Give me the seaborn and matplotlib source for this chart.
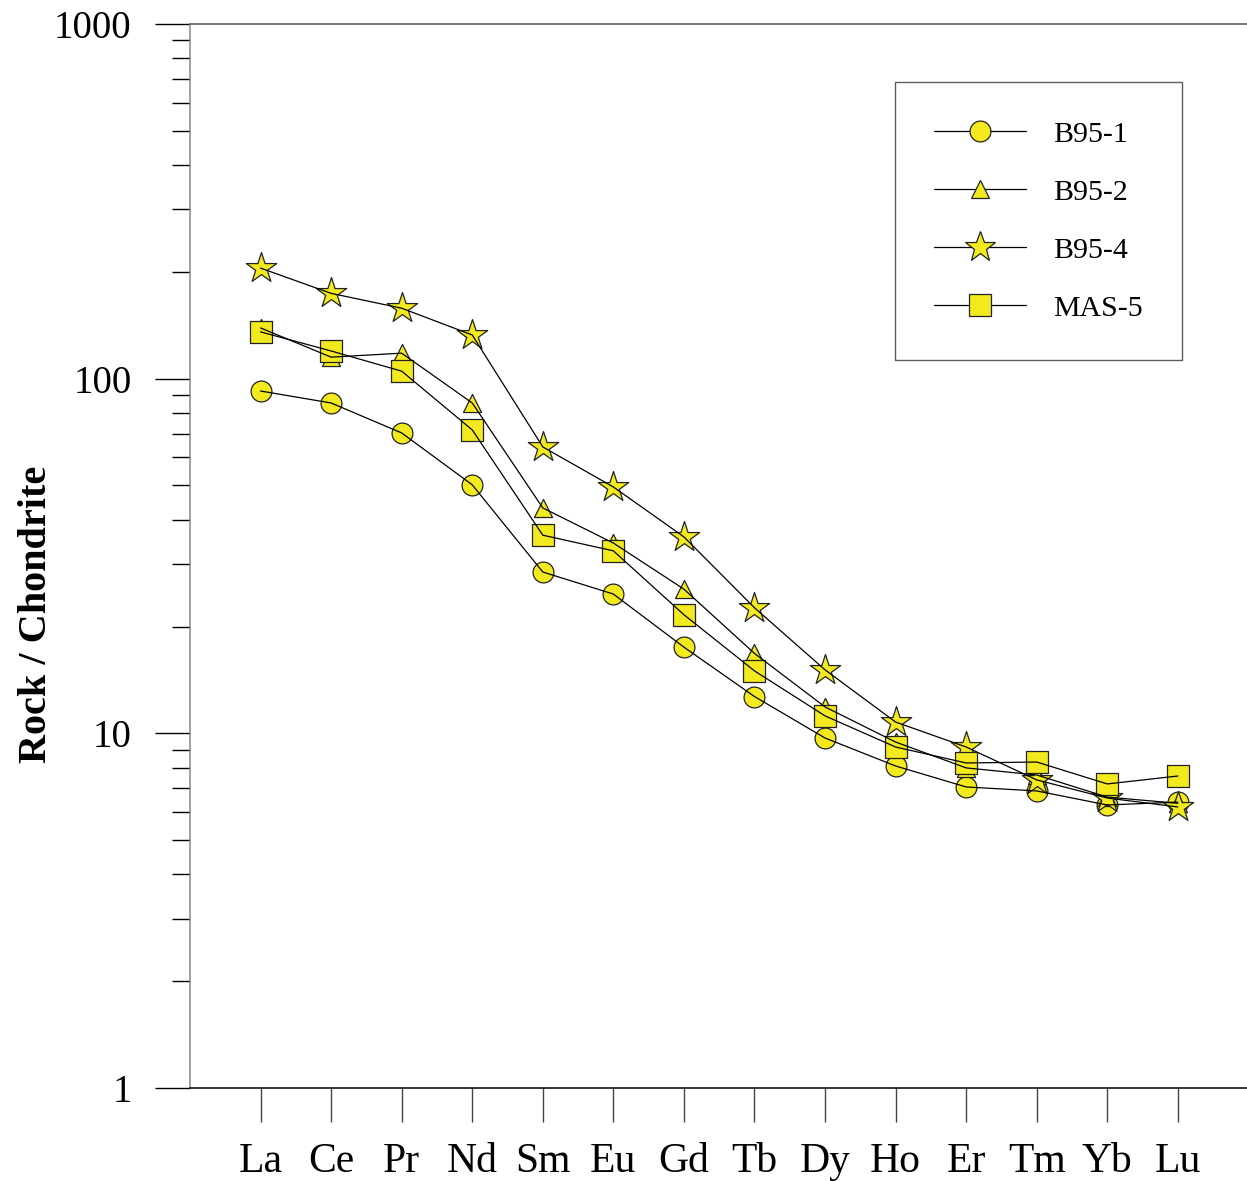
import numpy as np
import pandas as pd
import matplotlib
matplotlib.use("Agg")
import matplotlib.pyplot as plt
from matplotlib.lines import Line2D
import matplotlib.ticker as mticker
import seaborn as sns

# REE chondrite-normalised values
elements = ["La", "Ce", "Pr", "Nd", "Sm", "Eu", "Gd", "Tb", "Dy", "Ho", "Er", "Tm", "Yb", "Lu"]
b95_1 = [92.3, 85.4, 70.3, 50.2, 28.5, 24.7, 17.5, 12.7, 9.7, 8.09, 7.06, 6.88, 6.28, 6.4]
b95_2 = [139, 115, 118, 85.4, 43.2, 34.4, 25.5, 16.8, 11.87, 9.45, 7.99, 7.63, 6.61, 6.35]
b95_4 = [205, 174, 158, 132.8, 64.2, 49.5, 35.8, 22.6, 15.1, 10.76, 9.15, 7.39, 6.57, 6.2]
mas_5 = [135.5, 119.7, 105, 71.7, 36.2, 32.7, 21.6, 15.0, 11.2, 9.15, 8.25, 8.3, 7.2, 7.58]

samples = ["B95-1", "B95-2", "B95-4", "MAS-5"]
series = [b95_1, b95_2, b95_4, mas_5]
markers = {"B95-1": "o", "B95-2": "^", "B95-4": "*", "MAS-5": "s"}
msizes = {"B95-1": 15, "B95-2": 13, "B95-4": 23, "MAS-5": 16}

rows = []
for name, vals in zip(samples, series):
    for i, (el, v) in enumerate(zip(elements, vals)):
        rows.append({"sample": name, "element": el, "pos": i + 1, "value": v})
df = pd.DataFrame(rows)

sns.set_style("white")
plt.rcParams["font.family"] = ["Liberation Serif", "DejaVu Serif"]
plt.rcParams["text.color"] = "black"
plt.rcParams["axes.labelcolor"] = "black"
plt.rcParams["xtick.color"] = "black"
plt.rcParams["ytick.color"] = "black"

fill = "#F2EA1E"
edge = "#222222"

fig = plt.figure(figsize=(12.47, 11.81), dpi=100)
ax = fig.add_axes([190 / 1247, 1 - 1088 / 1181, (1247 - 190) / 1247, 1064 / 1181])

for name in samples:
    sub = df[df["sample"] == name]
    sns.scatterplot(data=sub, x="pos", y="value", marker=markers[name],
                    s=msizes[name] ** 2, color=fill, edgecolor=edge,
                    linewidth=0.9, ax=ax, zorder=2, legend=False)

sns.lineplot(data=df, x="pos", y="value", units="sample", estimator=None,
             color="black", lw=0.9, ax=ax, zorder=3, legend=False, sort=False)

ax.set_yscale("log")
ax.set_ylim(1, 1000)
ax.set_xlim(0, 14.98)

ax.yaxis.set_major_locator(mticker.LogLocator(base=10, numticks=10))
ax.yaxis.set_major_formatter(mticker.FuncFormatter(lambda v, p: f"{v:g}"))
ax.yaxis.set_minor_locator(mticker.LogLocator(base=10, subs=np.arange(2, 10), numticks=20))
ax.yaxis.set_minor_formatter(mticker.NullFormatter())
ax.tick_params(axis="y", which="major", direction="out", length=25, width=1,
               color="black", labelcolor="black", labelsize=28, pad=17, left=True)
ax.tick_params(axis="y", which="minor", direction="out", length=13, width=1,
               color="black", left=True)

ax.set_xticks(range(1, len(elements) + 1))
ax.set_xticklabels(elements)
ax.tick_params(axis="x", which="major", direction="out", length=24.5, width=1,
               color="#444444", labelcolor="black", labelsize=30, pad=15, bottom=True)

ax.spines["right"].set_visible(False)
ax.spines["left"].set_color("#888888")
ax.spines["top"].set_color("#555555")
ax.spines["bottom"].set_color("black")
for s in ["left", "top", "bottom"]:
    ax.spines[s].set_linewidth(1.1)

ax.set_xlabel("")
ax.set_ylabel("Rock / Chondrite", fontsize=29, fontweight="bold", color="black")
ax.yaxis.set_label_coords(-0.128, 0.445)

handles = [Line2D([0], [0], color="black", lw=0.9, marker=markers[n],
                  markersize=msizes[n], markerfacecolor=fill,
                  markeredgecolor=edge, markeredgewidth=0.9) for n in samples]
leg = ax.legend(handles, samples, loc="upper left",
                bbox_to_anchor=(895 / 1247, 1 - 82 / 1181),
                bbox_transform=fig.transFigure, borderaxespad=0,
                fontsize=21.5, frameon=True, fancybox=False, handlelength=3.1,
                handletextpad=0.9, labelspacing=1.04, borderpad=1.3)
leg.get_frame().set_edgecolor("#333333")
leg.get_frame().set_linewidth(1)
for t in leg.get_texts():
    t.set_color("black")

fig.savefig("out.png", dpi=100)
